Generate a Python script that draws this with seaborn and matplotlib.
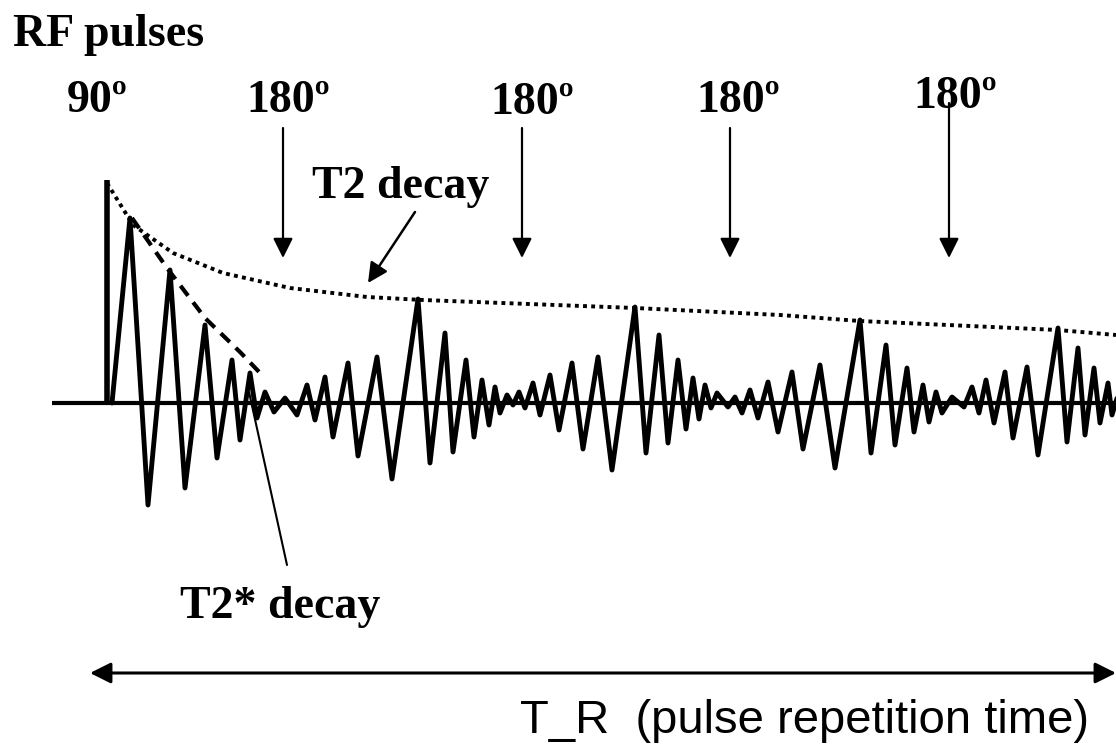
import numpy as np
import pandas as pd
import matplotlib
matplotlib.use("Agg")
import matplotlib.pyplot as plt
import seaborn as sns

# spin echo train, coordinates in pixels (y grows downward)
baseline_y = 403
pulse_x = 107
pulse_top = 180

# echo signal: alternating peaks / troughs
sig_x = [112, 130, 148, 170, 185, 205, 217, 232, 240, 250, 257, 265, 274, 285, 297,
         307, 315, 325, 333, 348, 358, 377, 392, 418, 430, 445, 453, 466, 474, 482,
         489, 495, 500, 507, 513, 519, 525, 533, 540, 550, 559, 572, 583, 598, 612,
         635, 646, 659, 668, 678, 686, 693, 699, 705, 711, 717, 728, 735, 742, 750,
         758, 768, 778, 792, 803, 820, 835, 860, 871, 886, 895, 907, 914, 923, 929,
         936, 942, 952, 964, 972, 979, 986, 994, 1005, 1013, 1027, 1038, 1058, 1067,
         1078, 1085, 1094, 1100, 1108, 1112, 1118]
sig_y = [403, 218, 505, 270, 488, 325, 458, 360, 440, 373, 418, 392, 412, 398, 415,
         385, 420, 377, 437, 363, 456, 357, 479, 299, 463, 333, 452, 360, 437, 380,
         425, 387, 413, 395, 405, 392, 408, 383, 415, 375, 430, 363, 449, 357, 470,
         307, 453, 335, 443, 360, 429, 378, 419, 385, 408, 393, 407, 397, 413, 390,
         418, 382, 432, 372, 449, 365, 468, 320, 453, 345, 445, 368, 432, 385, 422,
         392, 413, 397, 407, 387, 413, 380, 423, 372, 438, 367, 455, 328, 442,
         348, 435, 368, 423, 383, 415, 395]

# T2 envelope (dotted) and T2* envelope (dashed)
t2_x = [107, 133, 173, 223, 290, 367, 423, 635, 780, 860, 1058, 1116]
t2_y = [183, 225, 253, 273, 288, 297, 300, 308, 315, 321, 330, 335]
t2s_x = [132, 167, 205, 240, 263]
t2s_y = [218, 268, 318, 352, 376]

# RF pulse labels and 180 arrows
pulse_labels = ["90º", "180º", "180º", "180º", "180º"]
label_x = [97, 288, 532, 738, 955]
label_y = [112, 112, 114, 112, 108]
arrow_x = [283, 522, 730, 949]
arrow_top = [128, 128, 128, 103]
arrow_tip = 258

sns.set_style("white")
plt.rcParams["font.family"] = ["Liberation Serif", "DejaVu Serif"]

fig = plt.figure(figsize=(11.16, 7.45), dpi=100)
ax = fig.add_axes([0, 0, 1, 1])
ax.set_xlim(0, 1116)
ax.set_ylim(745, 0)
ax.axis("off")

# baseline and 90 pulse
ax.plot([52, 1116], [baseline_y, baseline_y], color="black", lw=3, solid_capstyle="butt")
ax.plot([pulse_x, pulse_x], [baseline_y, pulse_top], color="black", lw=4, solid_capstyle="butt")

sig = pd.DataFrame({"x": sig_x, "y": sig_y})
sns.lineplot(data=sig, x="x", y="y", ax=ax, color="black", lw=3.5,
             estimator=None, sort=False, solid_joinstyle="round")
sns.lineplot(x=t2_x, y=t2_y, ax=ax, color="black", lw=2.8, estimator=None, sort=False,
             linestyle=(0, (1, 1.1)))
sns.lineplot(x=t2s_x, y=t2s_y, ax=ax, color="black", lw=3, estimator=None, sort=False,
             linestyle=(0, (3, 2)))

bold = dict(fontweight="bold", color="black", fontsize=33)
ax.text(13, 46, "RF pulses", ha="left", va="baseline", **bold)
for lab, lx, ly in zip(pulse_labels, label_x, label_y):
    ax.text(lx, ly, lab, ha="center", va="baseline", **bold)

head = "-|>,head_length=0.6,head_width=0.3"
for ax_x, top in zip(arrow_x, arrow_top):
    ax.annotate("", xy=(ax_x, arrow_tip), xytext=(ax_x, top),
                arrowprops=dict(arrowstyle=head, color="black", lw=1.6,
                                mutation_scale=20, shrinkA=0, shrinkB=0))

ax.text(312, 198, "T2 decay", ha="left", va="baseline", **bold)
ax.annotate("", xy=(368, 283), xytext=(415, 212),
            arrowprops=dict(arrowstyle=head, color="black", lw=1.8,
                            mutation_scale=20, shrinkA=0, shrinkB=0))

ax.text(180, 618, "T2* decay", ha="left", va="baseline", **bold)
ax.plot([249, 287], [392, 565], color="black", lw=1.5)

ax.annotate("", xy=(1116, 673), xytext=(90, 673),
            arrowprops=dict(arrowstyle="<|-|>,head_length=0.7,head_width=0.35",
                            color="black", lw=2.2, mutation_scale=18,
                            shrinkA=0, shrinkB=0))
ax.text(520, 733, "T_R  (pulse repetition time)", ha="left", va="baseline",
        fontsize=34, family="Liberation Sans", color="black")

fig.savefig("out.png", dpi=100)
